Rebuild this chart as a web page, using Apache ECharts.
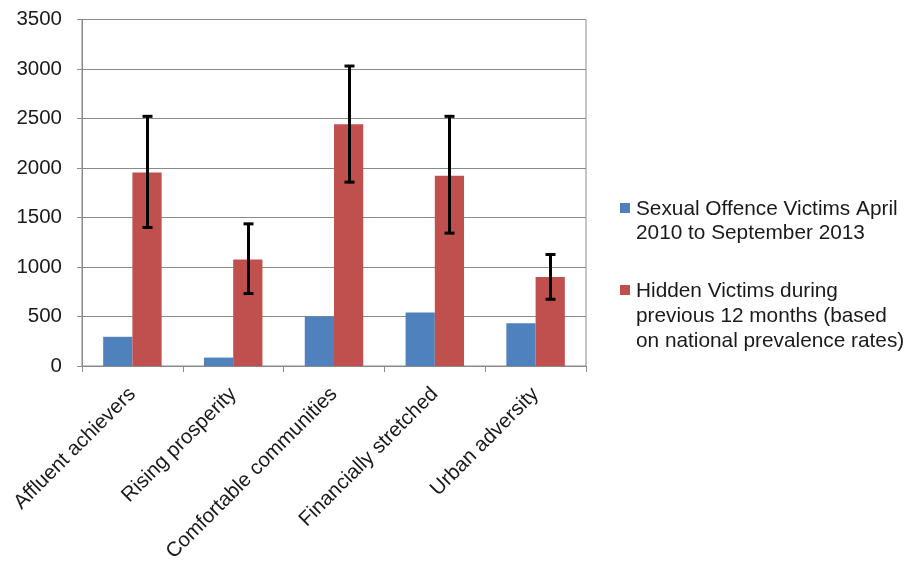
<!DOCTYPE html>
<html>
<head>
<meta charset="utf-8">
<script src="https://cdn.jsdelivr.net/npm/echarts@6/dist/echarts.min.js"></script>
<style>
html,body{margin:0;padding:0;background:#fff;}
#chart{width:913px;height:562px;}
</style>
</head>
<body>
<div id="chart"></div>
<script>
const categories = ['Affluent achievers', 'Rising prosperity', 'Comfortable communities', 'Financially stretched', 'Urban adversity'];
const seriesNames = ['Sexual Offence Victims April\n2010 to September 2013', 'Hidden Victims during\nprevious 12 months (based\non national prevalence rates)'];
const reportedVictims = [295, 85, 500, 540, 432];
const hiddenVictims = [1955, 1076, 2441, 1921, 900];
const hiddenLow = [1399, 732, 1857, 1342, 674];
const hiddenHigh = [2522, 1436, 3030, 2522, 1126];
const yTicks = {min: 0, max: 3500, interval: 500};

const FONT = "'Liberation Sans', Arial, sans-serif";
const TXT = '#1a1a1a';
const GRIDC = '#8a8a8a';
const COLORS = ['#4f81bd', '#c0504d'];
const CAT_GAP = 0.42;

const chart = echarts.init(document.getElementById('chart'), null, {renderer: 'canvas'});

const errData = categories.map((c, i) => [i, hiddenLow[i], hiddenHigh[i]]);

const option = {
  animation: false,
  grid: {left: 82, right: 327, top: 19.5, bottom: 196, containLabel: false, outerBoundsMode: 'none', show: true, borderColor: GRIDC, borderWidth: 1, backgroundColor: 'transparent'},
  xAxis: {
    type: 'category',
    data: categories,
    axisLine: {lineStyle: {color: GRIDC, width: 1}},
    axisTick: {show: true, length: 6, lineStyle: {color: GRIDC}},
    axisLabel: {rotate: 45, margin: 25, color: TXT, fontSize: 20.5, fontFamily: FONT}
  },
  yAxis: {
    type: 'value',
    min: yTicks.min, max: yTicks.max, interval: yTicks.interval,
    axisLine: {show: true, lineStyle: {color: GRIDC, width: 1}},
    axisTick: {show: true, length: 5, lineStyle: {color: GRIDC}},
    splitLine: {show: true, lineStyle: {color: GRIDC, width: 1}},
    axisLabel: {color: TXT, fontSize: 20.5, fontFamily: FONT, margin: 20, formatter: v => String(v)}
  },
  series: [
    {name: seriesNames[0], type: 'bar', data: reportedVictims, itemStyle: {color: COLORS[0]}, barGap: '0%', barCategoryGap: (CAT_GAP*100) + '%'},
    {name: seriesNames[1], type: 'bar', data: hiddenVictims, itemStyle: {color: COLORS[1]}, barGap: '0%', barCategoryGap: (CAT_GAP*100) + '%'},
    {
      type: 'custom',
      data: errData,
      z: 10,
      renderItem: function (params, api) {
        const idx = api.value(0);
        const lo = api.coord([idx, api.value(1)]);
        const hi = api.coord([idx, api.value(2)]);
        const catW = api.size([1, 0])[0];
        const barW = catW * (1 - CAT_GAP) / 2;
        const x = Math.round(lo[0] + barW / 2) + 0.5;
        const cap = 5;
        const st = {stroke: '#000', lineWidth: 3};
        return {
          type: 'group',
          children: [
            {type: 'line', shape: {x1: x, y1: hi[1], x2: x, y2: lo[1]}, style: st},
            {type: 'line', shape: {x1: x - cap, y1: hi[1], x2: x + cap, y2: hi[1]}, style: st},
            {type: 'line', shape: {x1: x - cap, y1: lo[1], x2: x + cap, y2: lo[1]}, style: st}
          ]
        };
      }
    }
  ],
  graphic: [
    {type: 'rect', left: 620, top: 203, shape: {width: 10, height: 10}, style: {fill: COLORS[0]}},
    {type: 'text', left: 636, top: 197, style: {text: seriesNames[0], font: '20.8px ' + FONT, fill: TXT, lineHeight: 24}},
    {type: 'rect', left: 620, top: 285, shape: {width: 10, height: 10}, style: {fill: COLORS[1]}},
    {type: 'text', left: 636, top: 279, style: {text: seriesNames[1], font: '20.8px ' + FONT, fill: TXT, lineHeight: 25}}
  ]
};
chart.setOption(option);
</script>
</body>
</html>
